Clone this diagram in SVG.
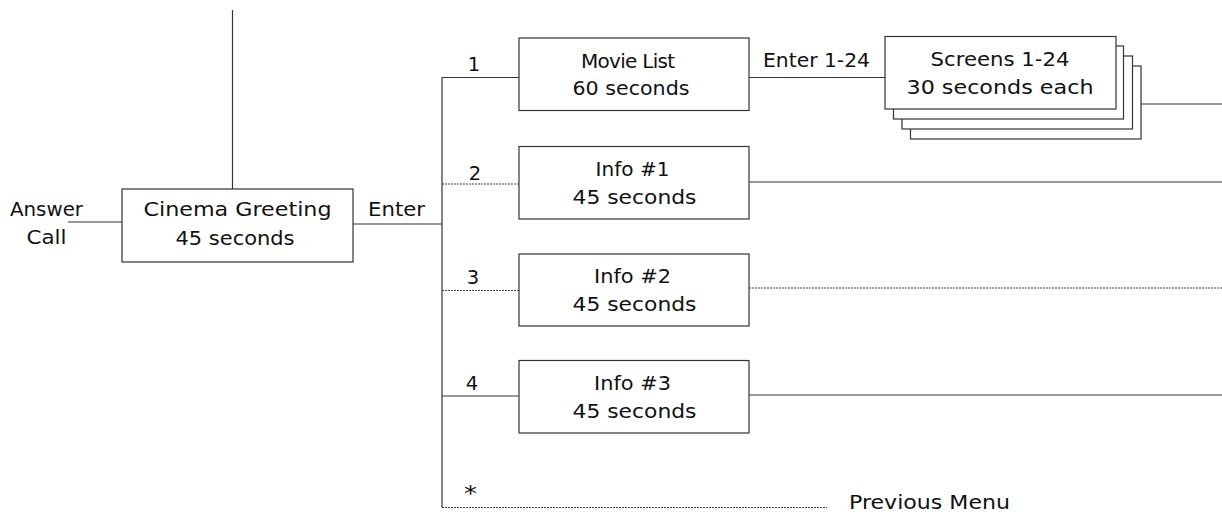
<svg xmlns="http://www.w3.org/2000/svg" width="1222" height="517" viewBox="0 0 1222 517">
<style>
.box{fill:#fff;stroke:#333;stroke-width:1.2}
.ln{stroke:#333;stroke-width:1.2;fill:none}
.dt{stroke:#444;stroke-width:1.2;fill:none;stroke-dasharray:2 1}
text{font-family:"DejaVu Sans","Liberation Sans",sans-serif;font-size:19.5px;fill:#111}
.c{text-anchor:middle}
</style>
<rect width="1222" height="517" fill="#fff"/>
<g id="connectors">
<line class="ln" x1="232.5" y1="10" x2="232.5" y2="189"/>
<line class="ln" x1="68" y1="222" x2="122" y2="222"/>
<line class="ln" x1="353" y1="224" x2="442" y2="224"/>
<line class="ln" x1="442" y1="77.5" x2="442" y2="507.5"/>
<line class="ln" x1="442" y1="77.5" x2="519" y2="77.5"/>
<line class="dt" x1="442" y1="184" x2="519" y2="184"/>
<line class="dt" x1="442" y1="290.5" x2="519" y2="290.5"/>
<line class="ln" x1="442" y1="396" x2="519" y2="396"/>
<line class="dt" x1="442" y1="507.5" x2="827" y2="507.5"/>
<line class="ln" x1="749" y1="77.5" x2="885" y2="77.5"/>
<line class="ln" x1="1141" y1="104" x2="1222" y2="104"/>
<line class="ln" x1="749" y1="182" x2="1222" y2="182"/>
<line class="dt" x1="749" y1="288" x2="1222" y2="288"/>
<line class="ln" x1="749" y1="395" x2="1222" y2="395"/>
<text x="46.5" y="215.5" class="c" textLength="73" lengthAdjust="spacingAndGlyphs">Answer</text>
<text x="46.5" y="244" class="c" textLength="40" lengthAdjust="spacingAndGlyphs">Call</text>
<text x="368" y="215.5" textLength="57" lengthAdjust="spacingAndGlyphs">Enter</text>
<text x="474" y="70.5" class="c">1</text>
<text x="475" y="180" class="c">2</text>
<text x="473" y="284" class="c">3</text>
<text x="472" y="390" class="c">4</text>
<text x="464" y="501" textLength="13" lengthAdjust="spacingAndGlyphs" style="font-size:22px">*</text>
<text x="763" y="67" textLength="107" lengthAdjust="spacingAndGlyphs">Enter 1-24</text>
<text x="849" y="509" textLength="161" lengthAdjust="spacingAndGlyphs">Previous Menu</text>
</g>
<g id="cinema">
<rect class="box" x="122" y="189" width="231" height="73"/>
<text x="237.5" y="215.5" class="c" textLength="188" lengthAdjust="spacingAndGlyphs">Cinema Greeting</text>
<text x="235" y="245" class="c" textLength="119" lengthAdjust="spacingAndGlyphs">45 seconds</text>
</g>
<g id="movielist">
<rect class="box" x="519" y="38" width="230" height="72.5"/>
<text x="628" y="67.5" class="c" style="font-size:20px" textLength="94" lengthAdjust="spacing">Movie List</text>
<text x="631" y="95" class="c" textLength="117" lengthAdjust="spacingAndGlyphs">60 seconds</text>
</g>
<g id="screens">
<rect class="box" x="910.5" y="66" width="230.5" height="73"/>
<rect class="box" x="902" y="56" width="230.5" height="73"/>
<rect class="box" x="893.5" y="46" width="230" height="73"/>
<rect class="box" x="885" y="36.5" width="231" height="72.5"/>
<text x="1000" y="65.5" class="c" textLength="139" lengthAdjust="spacingAndGlyphs">Screens 1-24</text>
<text x="1000" y="94" class="c" textLength="187" lengthAdjust="spacingAndGlyphs">30 seconds each</text>
</g>
<g id="info1">
<rect class="box" x="519" y="146.5" width="230" height="72.5"/>
<text x="632.5" y="175.5" class="c" textLength="74" lengthAdjust="spacingAndGlyphs">Info #1</text>
<text x="634.5" y="204" class="c" textLength="124" lengthAdjust="spacingAndGlyphs">45 seconds</text>
</g>
<g id="info2">
<rect class="box" x="519" y="254" width="230" height="72"/>
<text x="632.5" y="283" class="c" textLength="77" lengthAdjust="spacingAndGlyphs">Info #2</text>
<text x="634.5" y="311" class="c" textLength="124" lengthAdjust="spacingAndGlyphs">45 seconds</text>
</g>
<g id="info3">
<rect class="box" x="519" y="360.5" width="230" height="72.5"/>
<text x="632.5" y="390" class="c" textLength="77" lengthAdjust="spacingAndGlyphs">Info #3</text>
<text x="634.5" y="418" class="c" textLength="124" lengthAdjust="spacingAndGlyphs">45 seconds</text>
</g>
</svg>
